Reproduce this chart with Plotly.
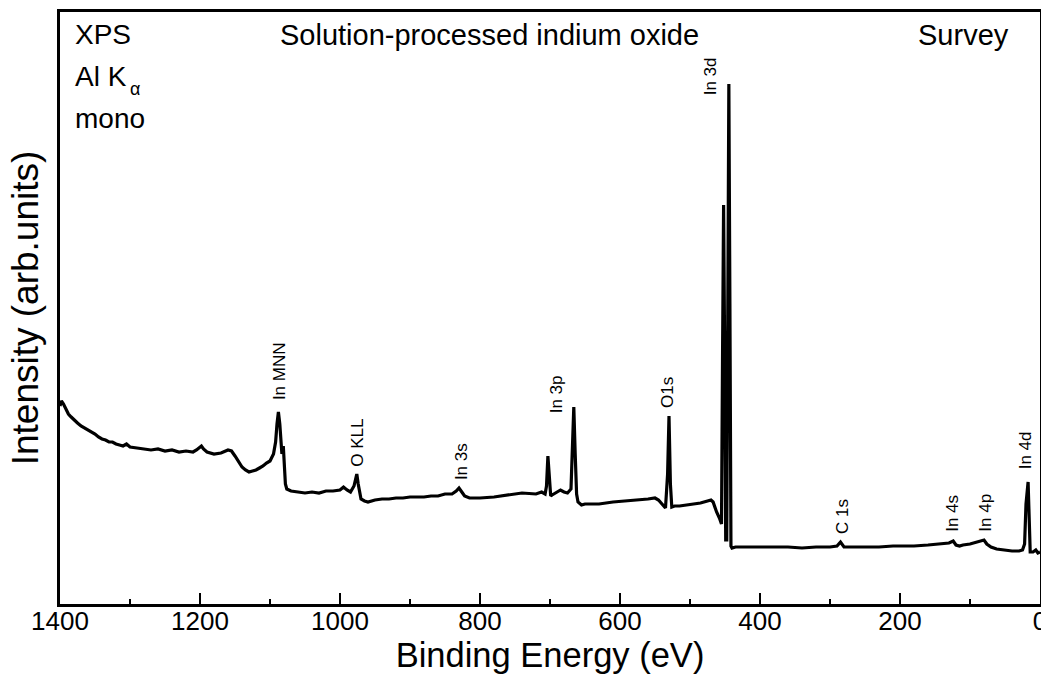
import plotly.graph_objects as go

# Binding energy (eV) and intensity (arb. units)
binding_energy = [
    1400, 1398, 1395, 1392, 1388, 1384, 1380, 1375, 1370, 1365, 1360, 1355, 1350, 1345,
    1340, 1335, 1330, 1325, 1320, 1315, 1310, 1305, 1300, 1290, 1280, 1270, 1260, 1250,
    1240, 1230, 1220, 1210, 1205, 1198, 1195, 1190, 1180, 1170, 1160, 1155, 1150, 1145,
    1140, 1135, 1130, 1125, 1120, 1115, 1110, 1105, 1100, 1095, 1092, 1090, 1088, 1086,
    1084, 1083, 1081, 1080, 1078, 1076, 1073, 1070, 1060, 1050, 1040, 1030, 1020, 1010,
    1000, 995, 990, 985, 980, 976, 974, 972, 970, 965, 960, 950, 940, 930, 920, 910, 900,
    890, 880, 870, 860, 850, 840, 834, 830, 826, 822, 815, 800, 780, 760, 740, 720, 712,
    707, 705, 703, 701, 699, 697, 690, 685, 680, 675, 670, 668, 666, 664, 662, 660, 655,
    650, 630, 610, 590, 570, 560, 550, 545, 540, 535, 532, 530, 528, 526, 522, 515, 505,
    495, 485, 475, 470, 467, 465, 462, 458, 455, 453.5, 452, 450.5, 449, 447.5, 446,
    444.5, 443, 441.5, 440, 435, 430, 420, 400, 380, 360, 340, 320, 300, 290, 285, 280,
    270, 250, 230, 210, 200, 180, 160, 140, 130, 124, 120, 115, 110, 100, 90, 80, 76, 70,
    62, 50, 40, 30, 25, 22, 20, 17, 15.5, 14, 10, 6, 3, 0,
]
intensity = [
    198, 203, 200, 196, 190, 187, 184, 181, 178, 176, 174, 172, 170, 167,
    165, 164, 162, 162, 160, 159, 158, 160, 157, 156, 155, 154, 155, 153,
    154, 152, 153, 152, 154, 158, 155, 152, 150, 151, 154, 153, 148, 142,
    137, 134, 132, 133, 134, 136, 138, 141, 143, 150, 162, 180, 192, 180,
    160, 150, 158, 140, 120, 115, 114, 113, 112, 111, 112, 111, 113, 113,
    114, 117, 114, 112, 118, 130, 120, 110, 105, 103, 102, 104, 105, 105, 106, 106, 107,
    107, 107, 108, 108, 110, 110, 113, 116, 112, 108, 106, 106, 107, 109, 111, 110, 112,
    110, 118, 148, 120, 108, 109, 112, 114, 112, 111, 115, 150, 197, 150, 110, 102, 99,
    100, 100, 102, 103, 104, 105, 106, 104, 100, 96, 130, 188, 120, 97, 98, 98, 99,
    100, 101, 103, 104, 102, 97, 92, 86, 80, 250, 399, 250, 64, 64, 250,
    520, 300, 58, 56, 57, 57, 57, 57, 57, 57, 56, 57, 57, 58, 62, 57,
    57, 57, 57, 58, 58, 58, 59, 60, 61, 63, 59, 58, 59, 60, 62, 64, 60, 57,
    55, 54, 53, 53, 54, 60, 100, 122, 80, 52, 52, 54, 51, 52,
]

# Peak labels: text, binding energy, label height
peak_labels = ["In MNN", "O KLL", "In 3s", "In 3p", "O1s", "In 3d", "C 1s", "In 4s", "In 4p", "In 4d"]
label_be = [1087, 976, 827, 691, 533, 471, 283, 126, 79, 21]
label_y = [233, 161, 142, 210, 212, 528, 88, 91, 91, 154]

x_ticks = [1400, 1200, 1000, 800, 600, 400, 200, 0]

FONT = "Arial, Liberation Sans, sans-serif"

fig = go.Figure()
fig.add_trace(go.Scatter(
    x=binding_energy, y=intensity, mode="lines",
    line=dict(color="black", width=3.2), showlegend=False, hoverinfo="skip",
))

for t, bx, by in zip(peak_labels, label_be, label_y):
    fig.add_annotation(x=bx, y=by, xref="x", yref="y", text=t, textangle=-90,
                       showarrow=False, font=dict(family=FONT, size=17, color="black"))

def px(xp):
    return (xp - 60) / 980

def py(yp):
    return (604 - yp) / 592

corner = [
    ("XPS", 73, 35, "left", 28),
    ("Al K", 73, 77, "left", 28),
    ("α", 128, 89, "left", 18),
    ("mono", 73, 118, "left", 28),
    ("Solution-processed indium oxide", 489, 35, "center", 29),
    ("Survey", 963, 35, "center", 29),
]
for t, xp, yp, anc, fs in corner:
    fig.add_annotation(x=px(xp), y=py(yp), xref="paper", yref="paper", text=t,
                       xanchor=anc, yanchor="middle", showarrow=False,
                       font=dict(family=FONT, size=fs, color="black"))

fig.update_layout(
    width=1041, height=698,
    margin=dict(l=60, r=1, t=12, b=94, autoexpand=False),
    paper_bgcolor="white", plot_bgcolor="white",
    font=dict(family=FONT, color="black"),
    xaxis=dict(
        range=[1400, 0], tickvals=x_ticks, ticktext=[str(v) for v in x_ticks],
        ticks="inside", ticklen=11, tickwidth=2, tickcolor="black",
        minor=dict(ticks="inside", ticklen=5, tickwidth=2, tickcolor="black", dtick=100),
        showline=True, linewidth=2.5, linecolor="black", mirror=True,
        showgrid=False, zeroline=False, ticklabeloverflow="allow",
        ticklabelstandoff=-8, automargin=False,
        tickfont=dict(family=FONT, size=26, color="black"),
        title=dict(text="Binding Energy (eV)", font=dict(family=FONT, size=34.5, color="black"), standoff=4),
    ),
    yaxis=dict(
        range=[0, 592], showticklabels=False, ticks="",
        showline=True, linewidth=2.5, linecolor="black", mirror=True,
        showgrid=False, zeroline=False, automargin=False,
        title=dict(text="Intensity (arb.units)", font=dict(family=FONT, size=37, color="black"), standoff=8),
    ),
)

fig.write_html("out.html")
